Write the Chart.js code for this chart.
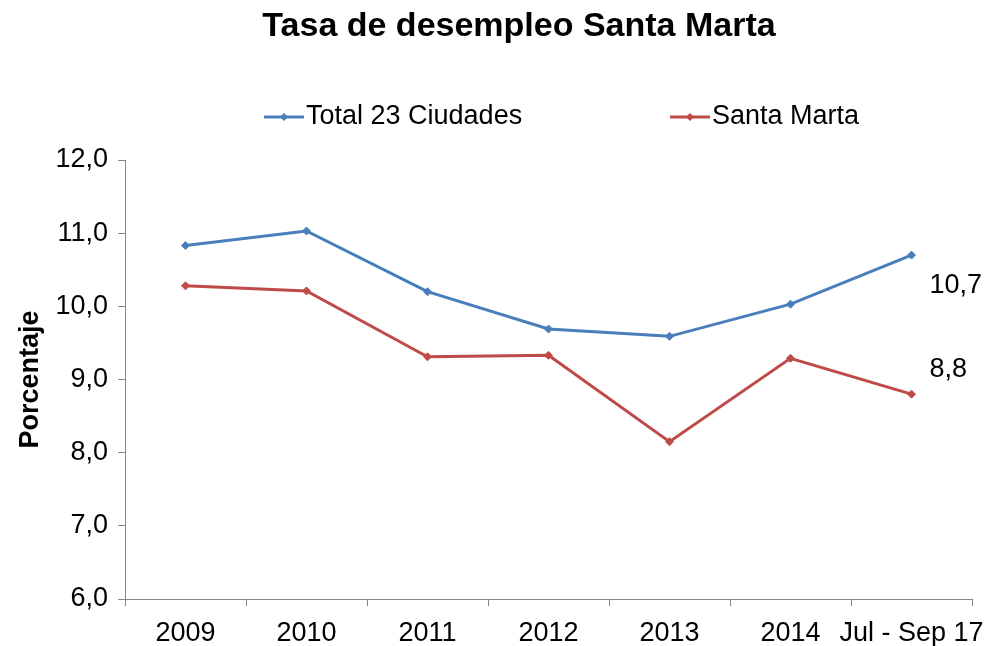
<!DOCTYPE html>
<html>
<head>
<meta charset="utf-8">
<script src="https://cdn.jsdelivr.net/npm/chart.js@4"></script>
<style>
  html, body { margin: 0; padding: 0; background: #ffffff; }
  #wrap { width: 987px; height: 646px; position: relative; }
</style>
</head>
<body>
<div id="wrap"><canvas id="c" width="987" height="646"></canvas></div>
<script>
// Categories and series (tasa de desempleo, %)
const categories = ['2009', '2010', '2011', '2012', '2013', '2014', 'Jul - Sep 17'];
const total23Ciudades = [10.83, 11.03, 10.20, 9.69, 9.59, 10.03, 10.7];
const santaMarta = [10.28, 10.21, 9.31, 9.33, 8.15, 9.29, 8.8];
const seriesNames = ['Total 23 Ciudades', 'Santa Marta'];
const chartTitle = 'Tasa de desempleo Santa Marta';
const yTicks = { min: 6, max: 12, step: 1 };

const FONT = '"Liberation Sans", Arial, sans-serif';
const BLUE = '#4A7EBB';
const RED = '#BE4B48';
const AXIS = '#868686';

const fmt = v => v.toFixed(1).replace('.', ',');

// Chart heading
const heading = {
  id: 'heading',
  afterDraw(chart, args, opts) {
    const ctx = chart.ctx;
    ctx.save();
    ctx.font = 'bold 34px ' + FONT;
    ctx.fillStyle = '#000';
    ctx.textAlign = 'center';
    ctx.textBaseline = 'middle';
    ctx.fillText(opts.text, opts.x, opts.y);
    ctx.restore();
  }
};

// Value label next to the last point of each series
const lastValueLabels = {
  id: 'lastValueLabels',
  afterDatasetsDraw(chart, args, opts) {
    const ctx = chart.ctx;
    ctx.save();
    ctx.font = '27px ' + FONT;
    ctx.fillStyle = '#000';
    ctx.textAlign = 'left';
    ctx.textBaseline = 'middle';
    chart.data.datasets.forEach((ds, i) => {
      const meta = chart.getDatasetMeta(i);
      const idx = ds.data.length - 1;
      const pt = meta.data[idx];
      const off = opts.offsets[i];
      ctx.fillText(fmt(ds.data[idx]), pt.x + off.dx, pt.y + off.dy);
    });
    ctx.restore();
  }
};

// Legend: line with a diamond marker, then the series name
const lineLegend = {
  id: 'lineLegend',
  afterDraw(chart, args, opts) {
    const ctx = chart.ctx;
    ctx.save();
    ctx.font = '27px ' + FONT;
    ctx.textBaseline = 'middle';
    ctx.textAlign = 'left';
    chart.data.datasets.forEach((ds, i) => {
      const x = opts.x[i], y = opts.y;
      ctx.strokeStyle = ds.borderColor;
      ctx.lineWidth = 3;
      ctx.beginPath();
      ctx.moveTo(x, y);
      ctx.lineTo(x + 40, y);
      ctx.stroke();
      ctx.fillStyle = ds.borderColor;
      ctx.beginPath();
      ctx.moveTo(x + 20, y - 4);
      ctx.lineTo(x + 24, y);
      ctx.lineTo(x + 20, y + 4);
      ctx.lineTo(x + 16, y);
      ctx.closePath();
      ctx.fill();
      ctx.fillStyle = '#000';
      ctx.fillText(ds.label, x + 42, y);
    });
    ctx.restore();
  }
};

new Chart(document.getElementById('c'), {
  type: 'line',
  data: {
    labels: categories,
    datasets: [
      {
        label: seriesNames[0],
        data: total23Ciudades,
        borderColor: BLUE,
        backgroundColor: BLUE,
        borderWidth: 3,
        pointStyle: 'rectRot',
        pointRadius: 4,
        pointBorderWidth: 1,
        tension: 0
      },
      {
        label: seriesNames[1],
        data: santaMarta,
        borderColor: RED,
        backgroundColor: RED,
        borderWidth: 3,
        pointStyle: 'rectRot',
        pointRadius: 4,
        pointBorderWidth: 1,
        tension: 0
      }
    ]
  },
  options: {
    responsive: false,
    animation: false,
    layout: { padding: { top: 160, right: 15, bottom: 0, left: 0 } },
    plugins: {
      legend: { display: false },
      tooltip: { enabled: false },
      title: { display: false },
      heading: { text: chartTitle, x: 519, y: 27 },
      lastValueLabels: { offsets: [{ dx: 18, dy: 30 }, { dx: 18, dy: -25 }] },
      lineLegend: { x: [264, 670], y: 117 }
    },
    scales: {
      x: {
        type: 'category',
        offset: true,
        afterFit: s => { s.height = 47; s.paddingRight = 0; s.paddingLeft = 0; },
        grid: {
          offset: true,
          drawOnChartArea: false,
          tickLength: 7,
          color: AXIS,
          lineWidth: 1
        },
        border: { color: AXIS, width: 1 },
        ticks: {
          color: '#000',
          font: { family: FONT, size: 27 },
          padding: 11,
          maxRotation: 0,
          autoSkip: false
        }
      },
      y: {
        min: yTicks.min,
        max: yTicks.max,
        afterFit: s => { s.width = 125; },
        grid: {
          drawOnChartArea: false,
          tickLength: 7,
          color: AXIS,
          lineWidth: 1
        },
        border: { color: AXIS, width: 1 },
        title: {
          display: true,
          text: 'Porcentaje',
          color: '#000',
          font: { family: FONT, size: 27, weight: 'bold' },
          padding: { top: 14, bottom: 0 }
        },
        ticks: {
          stepSize: yTicks.step,
          color: '#000',
          font: { family: FONT, size: 27 },
          padding: 10,
          callback: v => fmt(v)
        }
      }
    }
  },
  plugins: [heading, lastValueLabels, lineLegend]
});
</script>
</body>
</html>
